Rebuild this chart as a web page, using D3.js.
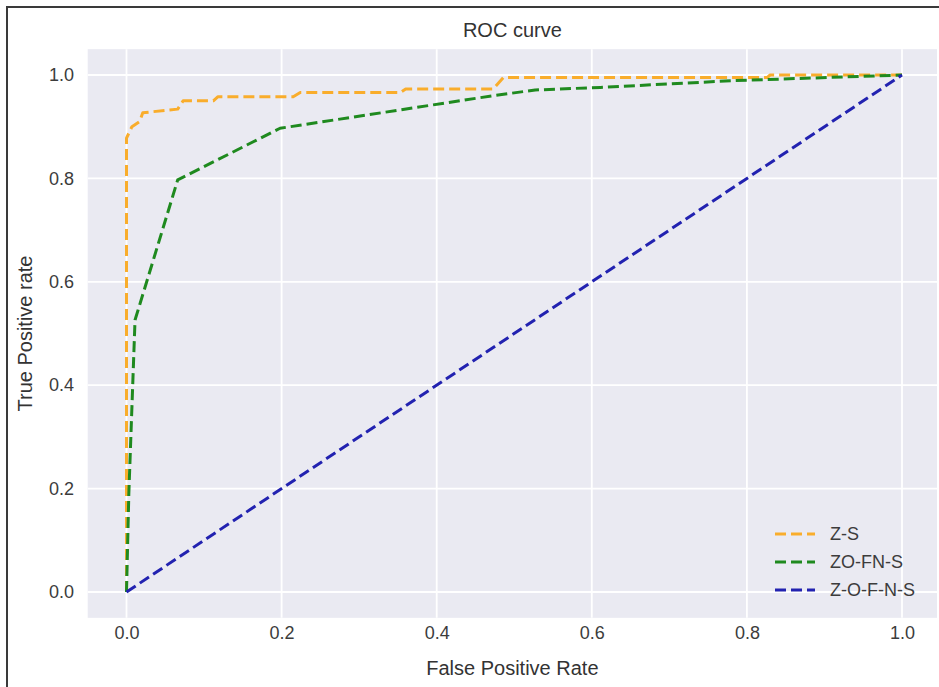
<!DOCTYPE html>
<html>
<head>
<meta charset="utf-8">
<script src="https://cdn.jsdelivr.net/npm/d3@7"></script>
<style>
  body { margin: 0; background: #fff; }
  svg { display: block; font-family: "Liberation Sans", Arial, sans-serif; }
</style>
</head>
<body>
<div id="chart"></div>
<script>
// ----- data ----- //
const fprZS = [0, 0, 0.007, 0.017, 0.021, 0.066, 0.073, 0.112, 0.118, 0.215, 0.224, 0.353, 0.36, 0.473, 0.486, 0.826, 0.83, 1];
const tprZS = [0, 0.878, 0.90, 0.91, 0.927, 0.934, 0.95, 0.95, 0.958, 0.958, 0.966, 0.966, 0.973, 0.973, 0.995, 0.995, 1.0, 1.0];

const fprZOFNS = [0, 0.003, 0.011, 0.066, 0.198, 0.473, 0.527, 0.611, 0.782, 1];
const tprZOFNS = [0, 0.19, 0.526, 0.797, 0.897, 0.96, 0.971, 0.976, 0.989, 1];

const fprZOFNS2 = [0, 1];
const tprZOFNS2 = [0, 1];

const seriesNames = ["Z-S", "ZO-FN-S", "Z-O-F-N-S"];
const seriesColors = ["#f9ad2c", "#1f8a1f", "#2222b0"];
const tickValues = [0, 0.2, 0.4, 0.6, 0.8, 1.0];

const series = [
  {name: seriesNames[0], color: seriesColors[0], pts: fprZS.map((f, i) => [f, tprZS[i]])},
  {name: seriesNames[1], color: seriesColors[1], pts: fprZOFNS.map((f, i) => [f, tprZOFNS[i]])},
  {name: seriesNames[2], color: seriesColors[2], pts: fprZOFNS2.map((f, i) => [f, tprZOFNS2[i]])}
];

// ----- layout ----- //
const W = 939, H = 687;
const svg = d3.select('#chart').append('svg')
              .attr('width', W)
              .attr('height', H);

// x(0)=126.5, x(1)=902 ; y(0)=592, y(1)=75 (matplotlib 5% margins)
const x = d3.scaleLinear().domain([0, 1]).range([126.5, 902]);
const y = d3.scaleLinear().domain([0, 1]).range([592, 75]);

const plotLeft = x(-0.05), plotRight = 937, plotTop = y(1.05), plotBottom = y(-0.05);

// image frame
svg.append('line').attr('x1', 6).attr('x2', W).attr('y1', 7).attr('y2', 7)
   .attr('stroke', '#3a3a3a').attr('stroke-width', 2);
svg.append('line').attr('x1', 7).attr('x2', 7).attr('y1', 6).attr('y2', H)
   .attr('stroke', '#3a3a3a').attr('stroke-width', 2);

// plot background
svg.append('rect')
   .attr('x', plotLeft).attr('y', plotTop)
   .attr('width', plotRight - plotLeft).attr('height', plotBottom - plotTop)
   .attr('fill', '#eaeaf2');

// grid
const grid = svg.append('g');
grid.selectAll('.gx').data(tickValues).enter().append('line')
    .attr('x1', d => x(d)).attr('x2', d => x(d))
    .attr('y1', plotTop).attr('y2', plotBottom)
    .attr('stroke', '#fff').attr('stroke-width', 1.8);
grid.selectAll('.gy').data(tickValues).enter().append('line')
    .attr('x1', plotLeft).attr('x2', plotRight)
    .attr('y1', d => y(d)).attr('y2', d => y(d))
    .attr('stroke', '#fff').attr('stroke-width', 1.8);

// axes (no domain line, no tick marks, like seaborn darkgrid)
const axeX = d3.axisBottom(x).tickValues(tickValues).tickFormat(d3.format('.1f')).tickSize(0).tickPadding(0);
const axeY = d3.axisLeft(y).tickValues(tickValues).tickFormat(d3.format('.1f')).tickSize(0).tickPadding(0);

const groupeX = svg.append('g').attr('transform', `translate(0, 626)`).call(axeX);
const groupeY = svg.append('g').attr('transform', `translate(74, 0)`).call(axeY);
[groupeX, groupeY].forEach(g => {
  g.select('.domain').remove();
  g.selectAll('text').style('font-size', '18px').attr('fill', '#3c3c3c')
   .style('font-family', '"Liberation Sans", Arial, sans-serif');
});

// curves
const line = d3.line().x(d => x(d[0])).y(d => y(d[1]));
svg.append('g').selectAll('path').data(series).enter().append('path')
   .attr('d', d => line(d.pts))
   .attr('fill', 'none')
   .attr('stroke', d => d.color)
   .attr('stroke-width', 3)
   .attr('stroke-dasharray', '11,5')
   .attr('stroke-linejoin', 'round');

// titles
svg.append('text')
   .attr('x', (plotLeft + plotRight) / 2).attr('y', 37)
   .attr('text-anchor', 'middle')
   .style('font-size', '20px').attr('fill', '#333')
   .text('ROC curve');

svg.append('text')
   .attr('x', (plotLeft + plotRight) / 2).attr('y', 675)
   .attr('text-anchor', 'middle')
   .style('font-size', '20px').attr('fill', '#333')
   .text('False Positive Rate');

svg.append('text')
   .attr('transform', `translate(32, ${(plotTop + plotBottom) / 2}) rotate(-90)`)
   .attr('text-anchor', 'middle')
   .style('font-size', '20px').attr('fill', '#333')
   .text('True Positive rate');

// legend
const legend = svg.append('g').selectAll('g').data(series).enter().append('g')
   .attr('transform', (d, i) => `translate(775, ${534 + i * 28})`);
legend.append('line')
   .attr('x1', 0).attr('x2', 40).attr('y1', 0).attr('y2', 0)
   .attr('stroke', d => d.color)
   .attr('stroke-width', 3)
   .attr('stroke-dasharray', '11,5');
legend.append('text')
   .attr('x', 55).attr('y', 0).attr('dy', '0.35em')
   .style('font-size', '18px').attr('fill', '#3c3c3c')
   .text(d => d.name);
</script>
</body>
</html>
